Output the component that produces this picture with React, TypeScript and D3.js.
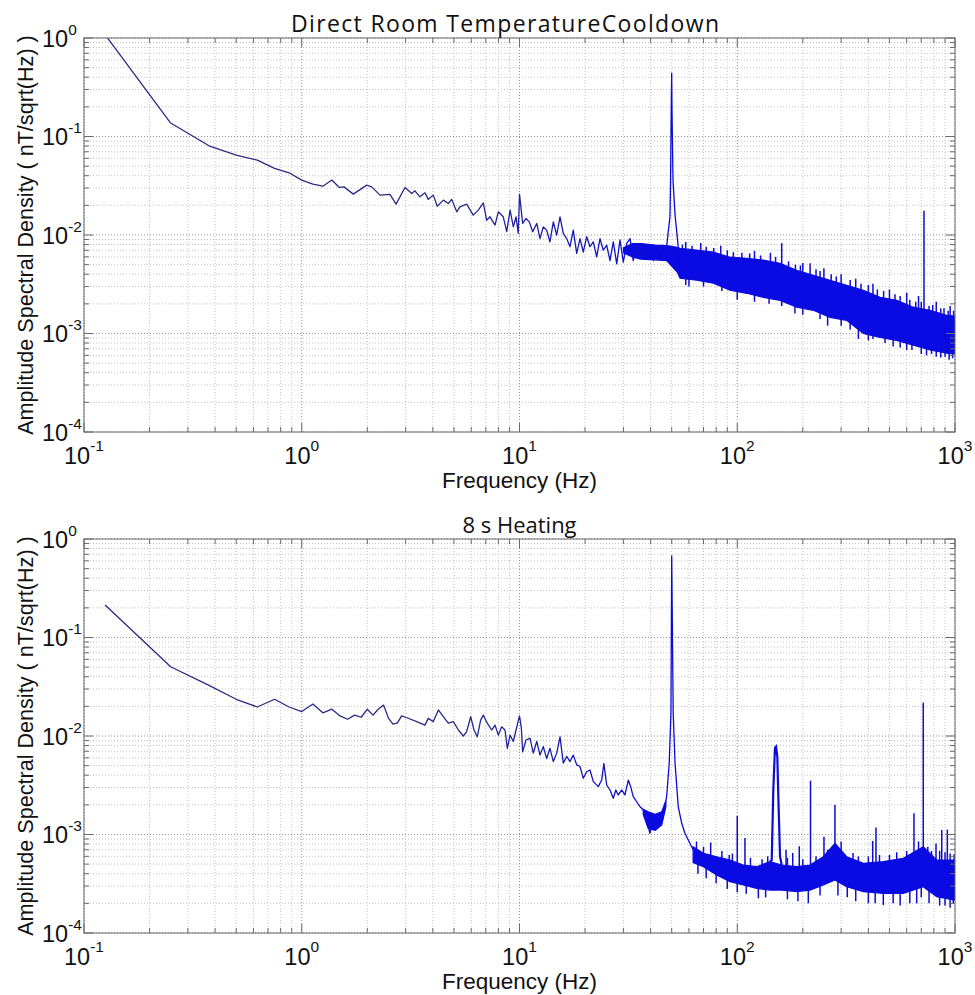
import React from 'react';
import * as d3 from 'd3';

const W = 975;
const H = 995;

const titles = ['Direct Room TemperatureCooldown', '8 s Heating'];
const xLabel = 'Frequency (Hz)';
const yLabel = 'Amplitude Spectral Density ( nT/sqrt(Hz) )';
const xDecades = [0.1, 1, 10, 100, 1000];
const xExps = ['-1', '0', '1', '2', '3'];
const yDecades = [1e-4, 1e-3, 1e-2, 1e-1, 1];
const yExps = ['-4', '-3', '-2', '-1', '0'];

// ---------- top panel: Direct Room Temperature Cooldown ----------
const topTrace: [number, number][] = [
  [0.125, 1.08], [0.25, 0.137], [0.375, 0.0805], [0.5, 0.0647], [0.625, 0.0575], [0.75, 0.0474],
  [0.875, 0.0428], [1.0, 0.0361], [1.125, 0.0328], [1.25, 0.0313], [1.375, 0.0361], [1.487, 0.0304],
  [1.563, 0.0308], [1.725, 0.026], [1.988, 0.0321], [2.095, 0.0308], [2.288, 0.0254], [2.543, 0.0258],
  [2.71, 0.0206], [2.98, 0.0304], [3.2, 0.0264], [3.31, 0.0281], [3.49, 0.0244], [3.68, 0.0268],
  [3.81, 0.023], [4.02, 0.0254], [4.19, 0.0196], [4.47, 0.0226], [4.71, 0.0209], [4.88, 0.023],
  [5.15, 0.0172], [5.33, 0.0193], [5.72, 0.0206], [6.13, 0.0159], [6.47, 0.0179], [6.82, 0.0212],
  [7.07, 0.0141], [7.32, 0.0153], [7.72, 0.0126], [7.99, 0.0172], [8.42, 0.0153], [8.74, 0.0108],
  [9.05, 0.0179], [9.37, 0.0121], [9.64, 0.0153], [9.87, 0.0104], [10.0, 0.026], [10.34, 0.0131],
  [10.71, 0.0147], [11.09, 0.0136], [11.5, 0.0108], [12.0, 0.0131], [12.42, 0.0092], [12.86, 0.0121],
  [13.33, 0.0112], [13.8, 0.0085], [14.3, 0.0136], [14.82, 0.01], [15.35, 0.0153], [15.89, 0.0104],
  [16.47, 0.0092], [17.06, 0.0076], [17.66, 0.0112], [18.31, 0.0065], [18.96, 0.0092], [19.63, 0.0067],
  [20.35, 0.0096], [21.07, 0.0076], [21.83, 0.0085], [22.62, 0.006], [23.43, 0.0092], [24.25, 0.007],
  [25.14, 0.0079], [26.03, 0.0055], [26.96, 0.0085], [27.95, 0.0051], [28.94, 0.0089], [29.97, 0.0053],
  [31.07, 0.0082], [32.2, 0.0092], [33.3, 0.0055], [34.5, 0.0076], [35.8, 0.006], [37.0, 0.0076],
  [38.4, 0.0058], [39.7, 0.0073], [41.2, 0.0055], [42.7, 0.0076], [44.2, 0.0058], [45.8, 0.0073],
  [47.4, 0.0076], [48.3, 0.0112], [49.1, 0.0153], [49.4, 0.036], [49.8, 0.234], [50.0, 0.44],
  [50.15, 0.185], [50.7, 0.036], [51.8, 0.016], [53.2, 0.0089], [54.6, 0.0047],
];
// frequency, lower edge, upper edge of the dense noise band (one array per continuous stretch)
const topBandA: [number, number, number][] = [
  [30, 0.0066, 0.0074], [33, 0.006, 0.0082], [36, 0.0057, 0.0082], [42, 0.0056, 0.0079], [47.4, 0.0055, 0.0078],
  [53, 0.0042, 0.0075], [54.6, 0.00364, 0.00734], [65.1, 0.00347, 0.00701], [77.6, 0.00324, 0.00669],
  [92.6, 0.00275, 0.00595], [110.5, 0.00256, 0.00581], [131.8, 0.00233, 0.00555], [157.2, 0.00217, 0.00517],
  [187.5, 0.00185, 0.00439], [223.6, 0.00172, 0.0039], [266.7, 0.00146, 0.00347], [318.2, 0.00136, 0.00309],
  [379.4, 0.001, 0.00275], [452.5, 0.00091, 0.00233], [539.9, 0.00085, 0.00217], [643.5, 0.00076, 0.00185],
  [767.9, 0.00068, 0.00172], [916, 0.00063, 0.00153], [1000, 0.00062, 0.0015],
];
const topSpikesUp: [number, number][] = [
  [160, 0.00826], [216, 0.00517], [720.5, 0.0176], [56, 0.008], [58, 0.0085], [62, 0.0078], [68, 0.0083],
  [72, 0.0076], [78, 0.0074], [84, 0.0078], [90, 0.007], [96, 0.0067], [105, 0.0066], [114, 0.0065],
  [120, 0.0069], [128, 0.0062], [142, 0.0066], [150, 0.006], [172, 0.0054], [185, 0.005], [195, 0.0049],
  [200, 0.0052], [230, 0.0045], [240, 0.0043], [250, 0.0046], [270, 0.004], [285, 0.0038], [300, 0.004],
  [330, 0.0035], [350, 0.0036], [370, 0.0032], [400, 0.0031], [420, 0.0032], [440, 0.0028], [470, 0.0027],
  [500, 0.0028], [530, 0.0025], [560, 0.0024], [600, 0.0026], [620, 0.0022], [660, 0.0021], [680, 0.0024],
  [700, 0.0021], [760, 0.0019], [790, 0.00195], [820, 0.0021], [860, 0.0018], [890, 0.0018], [930, 0.0017],
  [950, 0.0019], [985, 0.0017],
];
const topSpikesDown: [number, number][] = [
  [58, 0.0031], [60, 0.003], [70, 0.003], [85, 0.0027], [100, 0.0022], [120, 0.0021], [140, 0.002],
  [160, 0.0019], [184, 0.0016], [200, 0.00155], [240, 0.0014], [260, 0.0012], [300, 0.0012], [330, 0.0011],
  [360, 0.00088], [400, 0.00085], [420, 0.00088], [477, 0.0008], [520, 0.00074], [560, 0.00072], [600, 0.00068],
  [634, 0.00068], [700, 0.00062], [740, 0.0006], [780, 0.00062], [820, 0.00058], [860, 0.00057], [900, 0.00058],
  [940, 0.00054], [975, 0.00056],
];

// ---------- bottom panel: 8 s Heating ----------
const bottomTrace: [number, number][] = [
  [0.125, 0.214], [0.25, 0.0505], [0.375, 0.0326], [0.5, 0.0236], [0.625, 0.0197], [0.75, 0.0236],
  [0.875, 0.0197], [1.0, 0.0177], [1.125, 0.0211], [1.25, 0.0172], [1.375, 0.0187], [1.5, 0.016],
  [1.625, 0.0148], [1.75, 0.0163], [1.875, 0.0155], [2.0, 0.0187], [2.125, 0.0163], [2.25, 0.0188],
  [2.375, 0.0206], [2.5, 0.0152], [2.625, 0.0132], [2.75, 0.0136], [2.875, 0.016], [3.0, 0.0155],
  [3.37, 0.014], [3.68, 0.0129], [3.81, 0.0151], [4.02, 0.014], [4.24, 0.0184], [4.47, 0.0157],
  [4.71, 0.0135], [4.97, 0.014], [5.24, 0.0115], [5.52, 0.01], [5.72, 0.0111], [5.97, 0.0157],
  [6.18, 0.0115], [6.4, 0.0098], [6.63, 0.0145], [6.82, 0.0163], [7.11, 0.0135], [7.45, 0.0115],
  [7.72, 0.0129], [7.99, 0.0102], [8.28, 0.0124], [8.58, 0.0115], [8.79, 0.0075], [9.05, 0.0102],
  [9.37, 0.0088], [9.64, 0.0115], [10.0, 0.016], [10.2, 0.012], [10.34, 0.0069], [10.71, 0.0091],
  [11.17, 0.0095], [11.57, 0.0067], [12.0, 0.0088], [12.42, 0.0064], [12.86, 0.0078], [13.33, 0.0059],
  [13.8, 0.0075], [14.3, 0.0055], [14.82, 0.0067], [15.35, 0.0098], [15.89, 0.0053], [16.47, 0.0062],
  [17.06, 0.0055], [17.66, 0.0064], [18.31, 0.0051], [18.96, 0.0049], [19.63, 0.00372], [20.35, 0.00434],
  [21.07, 0.00452], [21.83, 0.00344], [23.0, 0.00306], [23.85, 0.00357], [24.4, 0.00528], [25.14, 0.00318],
  [26.03, 0.00283], [26.96, 0.00233], [27.7, 0.00283], [28.4, 0.00252], [29.5, 0.00283], [30.5, 0.00252],
  [31.6, 0.00357], [32.4, 0.00306], [33.3, 0.00242], [34.5, 0.00215], [35.8, 0.00191], [37.7, 0.0017],
  [39.7, 0.00103], [41.2, 0.0014], [42.7, 0.0012], [44.2, 0.0013], [45.8, 0.00164], [47.4, 0.00242],
  [48.7, 0.00528], [49.6, 0.017], [50.0, 0.672], [50.8, 0.017], [51.8, 0.00528], [53.6, 0.00191],
  [55.6, 0.0013], [57.5, 0.00103], [60.7, 0.00081], [62.7, 0.0007],
];
const bottomBandA: [number, number, number][] = [
  [37, 0.0016, 0.0018], [39, 0.00115, 0.0017], [42, 0.0011, 0.0016], [45, 0.00125, 0.0017], [47, 0.0019, 0.0022],
];
const bottomBandB: [number, number, number][] = [
  [62.7, 0.00052, 0.00075], [69.9, 0.000471, 0.000644], [80.5, 0.000388, 0.000595], [92.6, 0.000332, 0.000551],
  [106.6, 0.000307, 0.00049], [122.8, 0.000284, 0.000471], [141.4, 0.000273, 0.00053], [160, 0.000273, 0.00049],
  [187.5, 0.000263, 0.000471], [215.8, 0.000273, 0.00049], [248.5, 0.000307, 0.000595], [281, 0.000345, 0.000814],
  [318.2, 0.000295, 0.000595], [379.4, 0.000263, 0.00051], [468.6, 0.000253, 0.00053], [578.9, 0.000253, 0.000573],
  [715, 0.000295, 0.000752], [824, 0.000234, 0.000551], [1000, 0.000216, 0.000551],
];
const bottomPeak150: [number, number][] = [
  [141.4, 0.00053], [144, 0.00055], [146.4, 0.00283], [149, 0.00755], [150.7, 0.00778],
  [152.8, 0.00616], [154.4, 0.00242], [157.2, 0.0006], [160, 0.00049],
];
const bottomSpikesUp: [number, number][] = [
  [65, 0.00085], [70, 0.00075], [75.5, 0.00083], [85, 0.00068], [91.9, 0.00062], [95, 0.00064], [100, 0.00154],
  [108.5, 0.00092], [115, 0.00058], [130, 0.00056], [138, 0.0006], [167.5, 0.0007], [170, 0.00058],
  [179.8, 0.00065], [192.7, 0.00076], [200, 0.00056], [217, 0.00352], [230, 0.0006], [250.2, 0.00095],
  [260, 0.0007], [281, 0.002], [300, 0.00085], [340, 0.00065], [360, 0.0006], [400, 0.0006], [418.8, 0.00086],
  [433.6, 0.00118], [450, 0.00062], [500, 0.00062], [540, 0.00066], [600, 0.00068], [648, 0.00164],
  [680, 0.00085], [715, 0.0218], [750, 0.00075], [780, 0.00068], [818, 0.00081], [850, 0.00068],
  [869, 0.00111], [900, 0.00066], [922, 0.00112], [950, 0.00064], [990, 0.00063],
];
const bottomSpikesDown: [number, number][] = [
  [66, 0.0004], [72, 0.00036], [80, 0.00032], [90, 0.00028], [100, 0.00026], [110, 0.00025], [125, 0.000225],
  [135, 0.00023], [170, 0.00022], [190, 0.00021], [212, 0.0002], [240, 0.00024], [290, 0.00024], [320, 0.00023],
  [350, 0.00021], [400, 0.0002], [430, 0.0002], [468.6, 0.000192], [520, 0.0002], [560, 0.00019], [620, 0.0002],
  [667, 0.0002], [700, 0.00023], [760, 0.0002], [850, 0.00019], [900, 0.00019], [950, 0.00018], [982, 0.0002],
];

const LEFT = 84;
const RIGHT = 955;
const PANEL_H = 394;
const PANEL_TOPS = [38, 539];
const TICK_FONT = 'Liberation Sans, Arial, sans-serif';

type Band = [number, number, number][];

function envAt(bands: Band[], f: number, k: 1 | 2): number {
  let band = bands[0];
  let best = Infinity;
  for (const b of bands) {
    const d = f < b[0][0] ? b[0][0] - f : f > b[b.length - 1][0] ? f - b[b.length - 1][0] : 0;
    if (d < best) { best = d; band = b; }
  }
  if (f <= band[0][0]) return band[0][k];
  for (let i = 0; i < band.length - 1; i++) {
    const a = band[i], b = band[i + 1];
    if (f >= a[0] && f <= b[0]) {
      const t = (Math.log(f) - Math.log(a[0])) / (Math.log(b[0]) - Math.log(a[0]));
      return Math.exp(Math.log(a[k]) + t * (Math.log(b[k]) - Math.log(a[k])));
    }
  }
  return band[band.length - 1][k];
}

interface PanelProps {
  id: string;
  top: number;
  title: string;
  titleBox: { x: number; len: number } | null;
  trace: [number, number][];
  bands: Band[];
  extra: [number, number][][];
  up: [number, number][];
  down: [number, number][];
}

function Panel({ id, top, title, titleBox, trace, bands, extra, up, down }: PanelProps) {
  const bottom = top + PANEL_H;
  const x = d3.scaleLog().domain([0.1, 1000]).range([LEFT, RIGHT]);
  const y = d3.scaleLog().domain([1e-4, 1]).range([bottom, top]);

  const xMinor: number[] = [];
  xDecades.slice(0, -1).forEach((d) => { for (let k = 2; k <= 9; k++) xMinor.push(d * k); });
  const yMinor: number[] = [];
  yDecades.slice(0, -1).forEach((d) => { for (let k = 2; k <= 9; k++) yMinor.push(d * k); });

  const line = d3.line<[number, number]>().x((d) => x(d[0])).y((d) => y(d[1]));
  const area = d3.area<[number, number, number]>()
    .x((d) => x(d[0])).y0((d) => y(d[1])).y1((d) => y(d[2]));

  const gradId = `grad-${id}`;
  const clipId = `clip-${id}`;
  const traceColor = `url(#${gradId})`;
  const bandColor = '#0a0ae2';
  const spikeColor = '#0c0cd4';

  return (
    <g>
      <defs>
        <clipPath id={clipId}>
          <rect x={LEFT} y={top} width={RIGHT - LEFT} height={PANEL_H} />
        </clipPath>
        <linearGradient id={gradId} gradientUnits="userSpaceOnUse" x1={x(5)} x2={x(40)} y1={0} y2={0}>
          <stop offset="0" stopColor="#2a2a84" />
          <stop offset="1" stopColor="#0a0ad8" />
        </linearGradient>
      </defs>
      <rect x={LEFT} y={top} width={RIGHT - LEFT} height={PANEL_H} fill="#fff" />
      {/* grid */}
      {xMinor.map((v, i) => (
        <line key={`xm${i}`} x1={x(v)} x2={x(v)} y1={top} y2={bottom} stroke="#c2c2c2" strokeDasharray="1 2" />
      ))}
      {yMinor.map((v, i) => (
        <line key={`ym${i}`} x1={LEFT} x2={RIGHT} y1={y(v)} y2={y(v)} stroke="#c2c2c2" strokeDasharray="1 2" />
      ))}
      {xDecades.map((v, i) => (
        <line key={`xM${i}`} x1={x(v)} x2={x(v)} y1={top} y2={bottom} stroke="#949494" strokeDasharray="1 2" />
      ))}
      {yDecades.map((v, i) => (
        <line key={`yM${i}`} x1={LEFT} x2={RIGHT} y1={y(v)} y2={y(v)} stroke="#949494" strokeDasharray="1 2" />
      ))}
      {/* data */}
      <g clipPath={`url(#${clipId})`}>
        {bands.map((b, i) => (
          <path key={`b${i}`} d={area(b) || ''} fill={bandColor} stroke={bandColor} strokeWidth={1.2} />
        ))}
        {up.map((s, i) => (
          <line key={`su${i}`} x1={x(s[0])} x2={x(s[0])} y1={y(envAt(bands, s[0], 2)) + 2} y2={y(s[1])}
            stroke={spikeColor} strokeWidth={1.5} />
        ))}
        {down.map((s, i) => (
          <line key={`sd${i}`} x1={x(s[0])} x2={x(s[0])} y1={y(envAt(bands, s[0], 1)) - 2} y2={y(s[1])}
            stroke={spikeColor} strokeWidth={1.5} />
        ))}
        {extra.map((e, i) => (
          <path key={`ex${i}`} d={line(e) || ''} fill="none" stroke={spikeColor} strokeWidth={2.2} />
        ))}
        <path d={line(trace) || ''} fill="none" stroke={traceColor} strokeWidth={1.3} strokeLinejoin="round" />
      </g>
      {/* ticks */}
      {xMinor.map((v, i) => (
        <g key={`xt${i}`} stroke="#6a6a6a">
          <line x1={x(v)} x2={x(v)} y1={bottom} y2={bottom - 5} />
          <line x1={x(v)} x2={x(v)} y1={top} y2={top + 5} />
        </g>
      ))}
      {xDecades.map((v, i) => (
        <g key={`xT${i}`} stroke="#6a6a6a">
          <line x1={x(v)} x2={x(v)} y1={bottom} y2={bottom - 9} />
          <line x1={x(v)} x2={x(v)} y1={top} y2={top + 9} />
        </g>
      ))}
      {yMinor.map((v, i) => (
        <g key={`yt${i}`} stroke="#6a6a6a">
          <line x1={LEFT} x2={LEFT + 5} y1={y(v)} y2={y(v)} />
          <line x1={RIGHT} x2={RIGHT - 5} y1={y(v)} y2={y(v)} />
        </g>
      ))}
      {yDecades.map((v, i) => (
        <g key={`yT${i}`} stroke="#6a6a6a">
          <line x1={LEFT} x2={LEFT + 9} y1={y(v)} y2={y(v)} />
          <line x1={RIGHT} x2={RIGHT - 9} y1={y(v)} y2={y(v)} />
        </g>
      ))}
      <rect x={LEFT} y={top} width={RIGHT - LEFT} height={PANEL_H} fill="none" stroke="#6a6a6a" strokeWidth={1} />
      {/* tick labels */}
      {xDecades.map((v, i) => (
        <text key={`xl${i}`} x={x(v)} y={bottom + 32} textAnchor="middle" fontFamily={TICK_FONT} fontSize={23.5} fill="#111">
          <tspan>10</tspan>
          <tspan dy={-13} fontSize={15.5}>{xExps[i]}</tspan>
        </text>
      ))}
      {yDecades.map((v, i) => (
        <text key={`yl${i}`} x={42} y={y(v) + 8.5} textAnchor="start" fontFamily={TICK_FONT} fontSize={23.5} fill="#111">
          <tspan>10</tspan>
          <tspan dy={-12} fontSize={15.5}>{yExps[i]}</tspan>
        </text>
      ))}
      {/* titles */}
      {titleBox ? (
        <text x={titleBox.x} y={top - 6} textAnchor="start" fontFamily="Open Sans, sans-serif" fontSize={23}
          textLength={titleBox.len} lengthAdjust="spacing" fill="#111">
          {title}
        </text>
      ) : (
        <text x={(LEFT + RIGHT) / 2} y={top - 6} textAnchor="middle" fontFamily="Open Sans, sans-serif" fontSize={22} fill="#111">
          {title}
        </text>
      )}
      <text x={(LEFT + RIGHT) / 2} y={bottom + 56} textAnchor="middle" fontFamily={TICK_FONT} fontSize={22.5} fill="#111">
        {xLabel}
      </text>
      <text transform={`translate(33, ${(top + bottom) / 2}) rotate(-90)`} textAnchor="middle" fontFamily={TICK_FONT} fontSize={21.6} fill="#111">
        {yLabel}
      </text>
    </g>
  );
}

export default function App() {
  return (
    <svg width={W} height={H} viewBox={`0 0 ${W} ${H}`} style={{ position: 'absolute', left: 0, top: 0, background: '#fff' }}>
      <rect x={0} y={0} width={W} height={H} fill="#fff" />
      <Panel id="top" top={PANEL_TOPS[0]} title={titles[0]} titleBox={{ x: 291, len: 428 }} trace={topTrace}
        bands={[topBandA]} extra={[]} up={topSpikesUp} down={topSpikesDown} />
      <Panel id="bottom" top={PANEL_TOPS[1]} title={titles[1]} titleBox={null} trace={bottomTrace}
        bands={[bottomBandA, bottomBandB]} extra={[bottomPeak150]} up={bottomSpikesUp} down={bottomSpikesDown} />
    </svg>
  );
}
